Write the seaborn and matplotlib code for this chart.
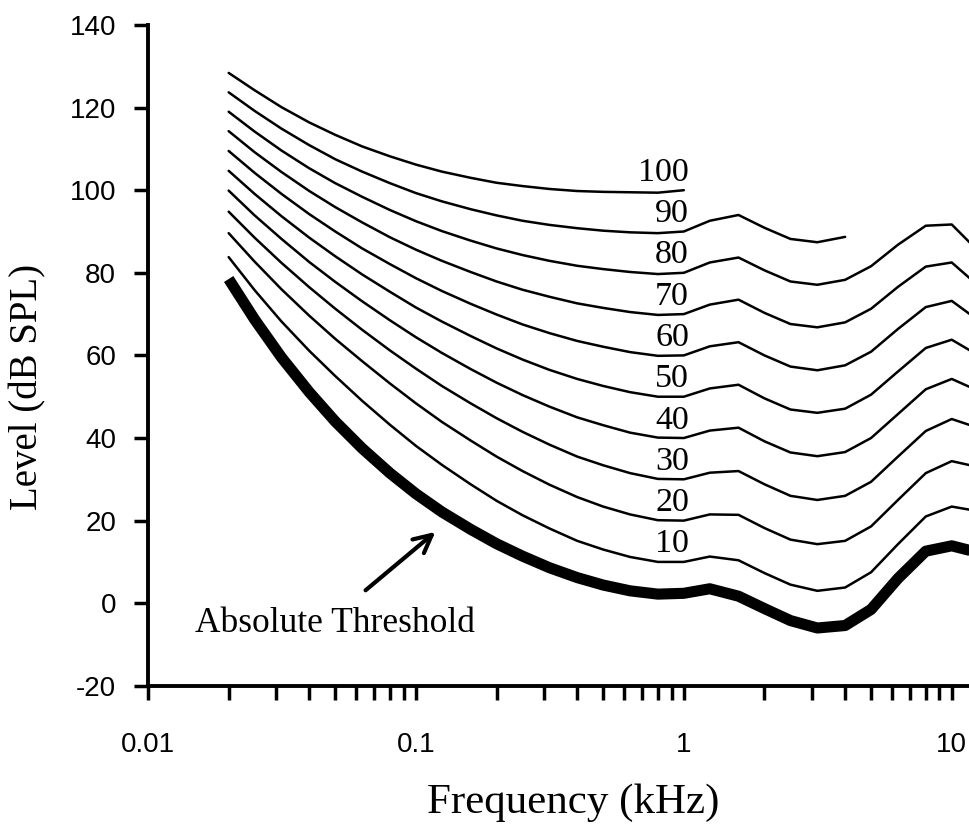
import matplotlib
matplotlib.use("Agg")
import matplotlib.pyplot as plt
import seaborn as sns
from matplotlib.ticker import LogLocator, NullFormatter

# equal-loudness contours, levels in dB SPL
freq_khz = [0.02, 0.025, 0.0315, 0.04, 0.05, 0.063, 0.08, 0.1, 0.125, 0.16, 0.2, 0.25, 0.315,
            0.4, 0.5, 0.63, 0.8, 1.0, 1.25, 1.6, 2.0, 2.5, 3.15, 4.0, 5.0, 6.3, 8.0, 10.0, 12.5]

threshold = [78.5, 68.7, 59.5, 51.1, 44.0, 37.5, 31.5, 26.5, 22.1, 17.9, 14.4, 11.4, 8.6, 6.2, 4.4,
             3.0, 2.2, 2.4, 3.5, 1.7, -1.3, -4.2, -6.0, -5.4, -1.5, 6.0, 12.6, 13.9, 12.3]

phon_10 = [83.8, 75.8, 68.2, 61.1, 55.0, 49.0, 43.2, 38.1, 33.5, 28.8, 24.8, 21.3, 18.1, 15.1, 13.0,
           11.2, 10.0, 10.0, 11.3, 10.4, 7.3, 4.5, 3.0, 3.8, 7.5, 14.3, 21.0, 23.4, 22.3]
phon_20 = [89.6, 82.7, 76.0, 69.6, 64.0, 58.6, 53.2, 48.4, 43.9, 39.4, 35.5, 32.0, 28.7, 25.7, 23.4,
           21.5, 20.1, 20.0, 21.5, 21.4, 18.2, 15.4, 14.3, 15.1, 18.6, 25.0, 31.5, 34.4, 33.0]
phon_30 = [94.8, 88.5, 82.4, 76.5, 71.3, 66.2, 61.2, 56.8, 52.6, 48.4, 44.8, 41.5, 38.4, 35.5, 33.4,
           31.5, 30.1, 30.0, 31.6, 32.0, 28.8, 26.0, 25.0, 26.0, 29.4, 35.5, 41.7, 44.6, 42.5]
phon_40 = [99.9, 93.9, 88.2, 82.6, 77.8, 73.1, 68.5, 64.4, 60.6, 56.7, 53.4, 50.4, 47.6, 45.0, 43.1,
           41.3, 40.1, 40.0, 41.8, 42.5, 39.2, 36.5, 35.6, 36.6, 40.0, 45.8, 51.8, 54.3, 51.5]
phon_50 = [104.7, 99.1, 93.7, 88.5, 84.0, 79.6, 75.4, 71.6, 68.2, 64.7, 61.7, 59.0, 56.5, 54.3, 52.6,
           51.1, 50.0, 50.0, 52.0, 52.9, 49.6, 46.9, 46.1, 47.1, 50.5, 56.1, 61.8, 63.8, 60.1]
phon_60 = [109.5, 104.2, 99.1, 94.2, 90.0, 85.9, 82.1, 78.7, 75.6, 72.5, 69.9, 67.5, 65.4, 63.5, 62.1,
           60.8, 59.9, 60.0, 62.2, 63.2, 60.0, 57.3, 56.4, 57.6, 60.9, 66.4, 71.7, 73.2, 68.6]
phon_70 = [114.3, 109.2, 104.4, 99.8, 95.9, 92.2, 88.6, 85.6, 82.9, 80.2, 77.9, 75.9, 74.2, 72.6, 71.5,
           70.5, 69.8, 70.0, 72.3, 73.5, 70.3, 67.6, 66.8, 68.0, 71.3, 76.6, 81.5, 82.5, 77.0]
phon_80 = [119.0, 114.2, 109.6, 105.3, 101.7, 98.4, 95.2, 92.5, 90.1, 87.8, 85.9, 84.3, 82.9, 81.7, 80.9,
           80.2, 79.7, 80.0, 82.5, 83.7, 80.6, 77.9, 77.1, 78.3, 81.6, 86.8, 91.4, 91.7, 85.4]
# 90 phon stops at 4 kHz, 100 phon at 1 kHz
phon_90 = [123.7, 119.2, 114.9, 110.9, 107.5, 104.5, 101.7, 99.3, 97.3, 95.4, 93.9, 92.6, 91.6, 90.8,
           90.2, 89.8, 89.6, 90.0, 92.6, 94.0, 90.9, 88.2, 87.4, 88.7]
phon_100 = [128.4, 124.2, 120.1, 116.4, 113.4, 110.6, 108.2, 106.2, 104.5, 103.0, 101.8, 101.0, 100.3,
            99.8, 99.6, 99.5, 99.4, 100.0]

contour_levels = [10, 20, 30, 40, 50, 60, 70, 80, 90, 100]
contours = [phon_10, phon_20, phon_30, phon_40, phon_50, phon_60, phon_70, phon_80, phon_90, phon_100]

sns.set_style("ticks")
plt.rcParams["font.family"] = ["Liberation Sans", "DejaVu Sans"]
plt.rcParams["text.color"] = "black"
plt.rcParams["axes.labelcolor"] = "black"
serif = ["Liberation Serif", "DejaVu Serif"]

fig = plt.figure(figsize=(9.7, 8.25), dpi=100)
ax = fig.add_axes([0.1526, 0.1687, 0.8474, 0.8010])

for level, vals in zip(contour_levels, contours):
    sns.lineplot(x=freq_khz[:len(vals)], y=vals, color="black", lw=1.8, ax=ax,
                 estimator=None, sort=False)
    ax.text(1.045, level + 4.3, str(level), ha="right", va="center", fontsize=24.5,
            family=serif, color="black")

sns.lineplot(x=freq_khz, y=threshold, color="black", lw=8, ax=ax, estimator=None, sort=False,
             solid_capstyle="butt")

ax.text(0.015, -4.8, "Absolute Threshold", ha="left", va="center", fontsize=25.5,
        family=serif, color="black")
ax.annotate("", xy=(0.1204, 17.7), xytext=(0.0637, 2.7),
            arrowprops=dict(arrowstyle="->", lw=3, color="black", mutation_scale=32))

ax.set_xscale("log")
ax.set_xlim(0.01, 11.7)
ax.set_ylim(-20, 140)
ax.set_xticks([0.01, 0.1, 1, 10])
ax.set_xticklabels(["0.01", "0.1", "1", "10"])
ax.xaxis.set_minor_locator(LogLocator(base=10, subs=range(2, 10)))
ax.xaxis.set_minor_formatter(NullFormatter())
yt = list(range(-20, 141, 20))
ax.set_yticks(yt)
ax.set_yticklabels([str(v) for v in yt])
ax.tick_params(axis="both", which="both", direction="out", length=10, width=2.5,
               labelsize=20, color="black", labelcolor="black")
ax.tick_params(axis="x", pad=23)
ax.tick_params(axis="y", pad=13)

sns.despine(ax=ax)
for side in ["left", "bottom"]:
    ax.spines[side].set_linewidth(2.8)
    ax.spines[side].set_color("black")

ax.set_xlabel("Frequency (kHz)", fontsize=31, family=serif)
ax.set_ylabel("Level (dB SPL)", fontsize=28, family=serif)
ax.xaxis.set_label_coords(0.517, -0.148)
ax.yaxis.set_label_coords(-0.123, 0.452)

fig.savefig("out.png", dpi=100)
